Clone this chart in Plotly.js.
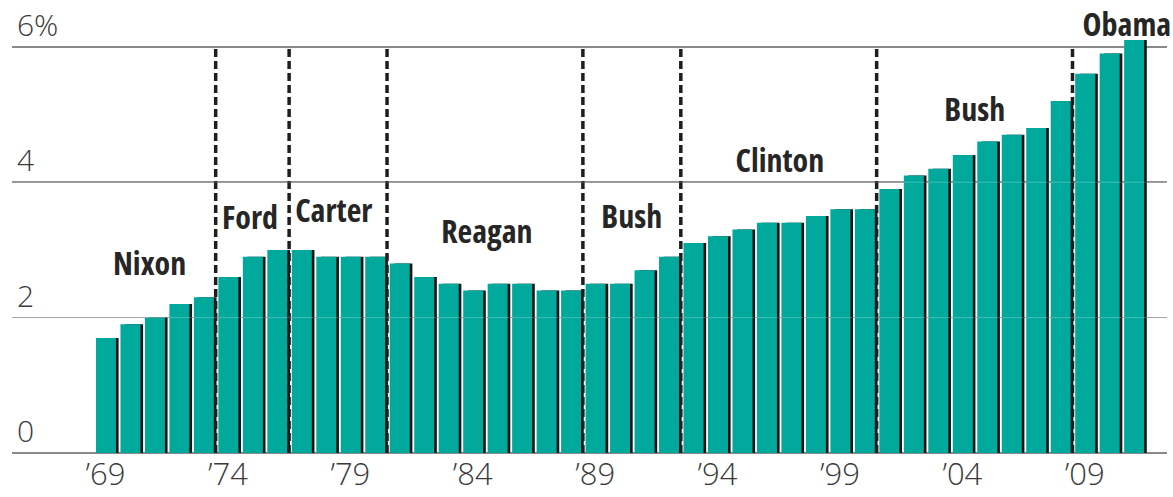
<!DOCTYPE html>
<html>
<head>
<meta charset="utf-8">
<script src="https://cdn.plot.ly/plotly-3.0.1.min.js"></script>
<style>
html,body{margin:0;padding:0;background:#fff;}
#chart{width:1173px;height:497px;}
#chart g.annotation .annotation-text{font-stretch:condensed;}
#chart g.annotation[data-index="8"] .annotation-text,
#chart g.annotation[data-index="9"] .annotation-text,
#chart g.annotation[data-index="10"] .annotation-text,
#chart g.annotation[data-index="11"] .annotation-text{font-stretch:normal;}
</style>
</head>
<body>
<div id="chart"></div>
<script>
// ---- data ----
const years = [1969,1970,1971,1972,1973,1974,1975,1976,1977,1978,1979,1980,1981,1982,1983,1984,1985,1986,1987,1988,1989,1990,1991,1992,1993,1994,1995,1996,1997,1998,1999,2000,2001,2002,2003,2004,2005,2006,2007,2008,2009,2010,2011];
const values = [1.7,1.9,2.0,2.2,2.3,2.6,2.9,3.0,3.0,2.9,2.9,2.9,2.8,2.6,2.5,2.4,2.5,2.5,2.4,2.4,2.5,2.5,2.7,2.9,3.1,3.2,3.3,3.4,3.4,3.5,3.6,3.6,3.9,4.1,4.2,4.4,4.6,4.7,4.8,5.2,5.6,5.9,6.1];
const tickYears = [1969,1974,1979,1984,1989,1994,1999,2004,2009];
const tickLabels = ["\u201969","\u201974","\u201979","\u201984","\u201989","\u201994","\u201999","\u201904","\u201909"];
const yTicks = [0,2,4,6];
const yTickLabels = ["0","2","4","6%"];
const presidents = ["Nixon","Ford","Carter","Reagan","Bush","Clinton","Bush","Obama"];
const termStarts = [1969,1974,1977,1981,1989,1993,2001,2009]; // first bar of each term

// ---- layout helpers (positions/styles) ----
const labelPos = [
  {x:1970.8, y:2.82},
  {x:1974.9, y:3.49},
  {x:1978.35, y:3.59},
  {x:1984.6, y:3.29},
  {x:1990.5, y:3.51},
  {x:1996.55, y:4.34},
  {x:2004.5, y:5.09},
  {x:2010.72, y:6.35}
];

const teal = '#00A99B';
const numFont = {family:'"Open Sans", Roboto, sans-serif', size:30, color:'#3a3a3a', weight:300};
const nameFont = {family:'"Open Sans", "DejaVu Sans", sans-serif', size:32, color:'#262626', weight:700};

const shadow = {
  type:'bar', x:years, y:values, width:0.735, offset:-0.2,
  marker:{color:'#141414', line:{width:0}}, hoverinfo:'skip', showlegend:false
};
const bars = {
  type:'bar', x:years, y:values, width:0.817, offset:-0.39,
  marker:{color:teal, line:{width:0}}, showlegend:false
};

const shapes = termStarts.slice(1).map(s => ({
  type:'line', xref:'x', yref:'y', x0:s-0.5, x1:s-0.5, y0:0, y1:6,
  line:{color:'#1e1e1e', width:3.5, dash:'8px,4px'}, layer:'above'
}));
yTicks.slice(1,3).forEach(v => shapes.push({
  type:'line', xref:'paper', yref:'y', x0:0, x1:1, y0:v, y1:v,
  line:{color:'rgba(255,255,255,0.25)', width:1}, layer:'above'
}));

const annotations = presidents.map((p,i) => ({
  text:p, x:labelPos[i].x, y:labelPos[i].y, xref:'x', yref:'y',
  xanchor:'center', yanchor:'middle', showarrow:false, font:nameFont, borderpad:0
}));
yTicks.forEach((v,i) => annotations.push({
  text:yTickLabels[i], x:0.0026, y:v, xref:'paper', yref:'y',
  xanchor:'left', yanchor:'bottom', yshift:0, showarrow:false, font:numFont
}));

const layout = {
  width:1173, height:497,
  margin:{l:12, r:6, t:0, b:44},
  paper_bgcolor:'#fff', plot_bgcolor:'#fff',
  barmode:'overlay',
  xaxis:{
    range:[1965.18, 2012.36], tickmode:'array', tickvals:tickYears, ticktext:tickLabels,
    showgrid:false, zeroline:false, showline:false, ticks:'',
    tickfont:{family:'"Open Sans", Roboto, sans-serif', size:31, color:'#3a3a3a', weight:300},
    fixedrange:true
  },
  yaxis:{
    range:[0, 6.691], tickmode:'array', tickvals:yTicks, showticklabels:false,
    showgrid:true, gridcolor:'#8a8a8a', gridwidth:1.5,
    zeroline:true, zerolinecolor:'#8a8a8a', zerolinewidth:1.5, showline:false, fixedrange:true
  },
  shapes:shapes,
  annotations:annotations,
  showlegend:false
};

Plotly.newPlot('chart', [shadow, bars], layout, {displayModeBar:false, staticPlot:true});
</script>
</body>
</html>
